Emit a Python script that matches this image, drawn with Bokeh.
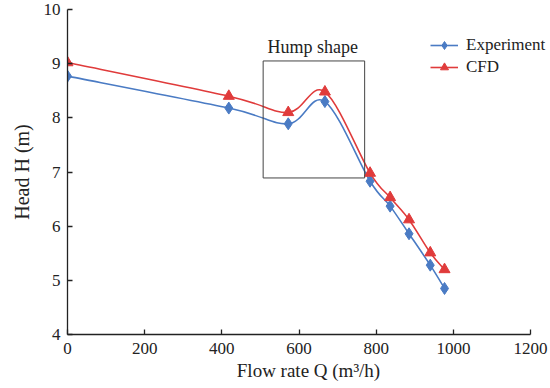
import numpy as np
from bokeh.plotting import figure
from bokeh.models import (Range1d, FixedTicker, BoxAnnotation, Label, Legend,
                          LegendItem, ColumnDataSource)
from bokeh.embed import file_html
from bokeh.resources import INLINE

# ---- data ----
flow_rate = [0, 418, 572, 667, 784, 836, 885, 940, 977]
head_experiment = [8.77, 8.18, 7.89, 8.30, 6.83, 6.37, 5.86, 5.28, 4.85]
head_cfd = [9.02, 8.40, 8.10, 8.48, 6.98, 6.53, 6.12, 5.51, 5.20]
x_ticks = [0, 200, 400, 600, 800, 1000, 1200]
y_ticks = [4, 5, 6, 7, 8, 9, 10]
series_names = ["Experiment", "CFD"]
hump_label = "Hump shape"
hump_box = dict(left=507, right=770, bottom=6.89, top=9.05)

BLUE = "#4A7BC4"
RED = "#E03B3B"
FONT = "Liberation Serif"
INK = "#222222"


def smooth_source(xs, ys):
    """Cubic Bezier control points for a smoothed line through the points."""
    x = np.asarray(xs, float)
    y = np.asarray(ys, float)
    n = len(x)
    d = dict(x0=[], y0=[], x1=[], y1=[], cx0=[], cy0=[], cx1=[], cy1=[])
    for i in range(n - 1):
        im1 = max(i - 1, 0)
        ip2 = min(i + 2, n - 1)
        d["x0"].append(x[i]); d["y0"].append(y[i])
        d["x1"].append(x[i + 1]); d["y1"].append(y[i + 1])
        d["cx0"].append(x[i] + (x[i + 1] - x[im1]) / 6.0)
        d["cy0"].append(y[i] + (y[i + 1] - y[im1]) / 6.0)
        d["cx1"].append(x[i + 1] - (x[ip2] - x[i]) / 6.0)
        d["cy1"].append(y[i + 1] - (y[ip2] - y[i]) / 6.0)
    return ColumnDataSource(d)


# frame extends a little past 1200 so the legend has room; the axis stops at 1200
p = figure(width=550, height=388, output_backend="svg", toolbar_location=None,
           x_range=Range1d(0, 1249), y_range=Range1d(4, 10),
           min_border_left=67, min_border_right=1, min_border_top=9,
           min_border_bottom=54)
p.outline_line_color = None
p.xgrid.visible = False
p.ygrid.visible = False
p.background_fill_color = "white"
p.border_fill_color = "white"

for ax in (p.xaxis[0], p.yaxis[0]):
    ax.axis_line_color = INK
    ax.axis_line_width = 1.3
    ax.major_tick_line_color = INK
    ax.major_tick_line_width = 1.3
    ax.major_tick_in = 5
    ax.major_tick_out = 0
    ax.minor_tick_line_color = None
    ax.major_label_text_font = FONT
    ax.major_label_text_font_size = "17px"
    ax.major_label_text_color = INK
    ax.axis_label_text_font = FONT
    ax.axis_label_text_font_style = "normal"
    ax.axis_label_text_color = INK

p.xaxis.bounds = (0, 1200)
p.xaxis.ticker = FixedTicker(ticks=x_ticks)
p.yaxis.ticker = FixedTicker(ticks=y_ticks)
p.xaxis.axis_label = "Flow rate Q (m\u00b3/h)"
p.yaxis.axis_label = "Head H (m)"
p.xaxis.axis_label_text_font_size = "19px"
p.yaxis.axis_label_text_font_size = "20px"
p.xaxis.major_label_standoff = 8
p.xaxis.axis_label_standoff = 3
p.yaxis.major_label_standoff = 7
p.yaxis.axis_label_standoff = 8

# hump box
p.add_layout(BoxAnnotation(**hump_box, fill_alpha=0, line_color="#444444",
                           line_alpha=1.0, line_width=1))
p.add_layout(Label(x=(hump_box["left"] + hump_box["right"]) / 2 - 3, y=9.30,
                   text=hump_label, text_align="center",
                   text_baseline="alphabetic", text_font=FONT,
                   text_font_size="18px", text_color=INK))

# curves
r_exp_line = p.bezier(x0="x0", y0="y0", x1="x1", y1="y1", cx0="cx0", cy0="cy0",
                      cx1="cx1", cy1="cy1",
                      source=smooth_source(flow_rate, head_experiment),
                      line_color=BLUE, line_width=1.6)
r_cfd_line = p.bezier(x0="x0", y0="y0", x1="x1", y1="y1", cx0="cx0", cy0="cy0",
                      cx1="cx1", cy1="cy1",
                      source=smooth_source(flow_rate, head_cfd),
                      line_color=RED, line_width=1.6)
r_exp_pts = p.scatter(flow_rate, head_experiment, marker="diamond", size=12,
                      fill_color=BLUE, line_color=BLUE)
r_cfd_pts = p.scatter(flow_rate, head_cfd, marker="triangle", size=11,
                      fill_color=RED, line_color=RED)

legend = Legend(items=[
    LegendItem(label=series_names[0], renderers=[r_exp_line, r_exp_pts]),
    LegendItem(label=series_names[1], renderers=[r_cfd_line, r_cfd_pts]),
], location=(363, 257))
legend.border_line_alpha = 0
legend.background_fill_alpha = 0
legend.padding = 0
legend.margin = 0
legend.spacing = 2
legend.glyph_width = 28
legend.glyph_height = 20
legend.label_height = 20
legend.label_standoff = 8
legend.label_text_font = FONT
legend.label_text_font_size = "17px"
legend.label_text_color = INK
p.add_layout(legend, "center")

open("out.html", "w").write(file_html(p, INLINE))
